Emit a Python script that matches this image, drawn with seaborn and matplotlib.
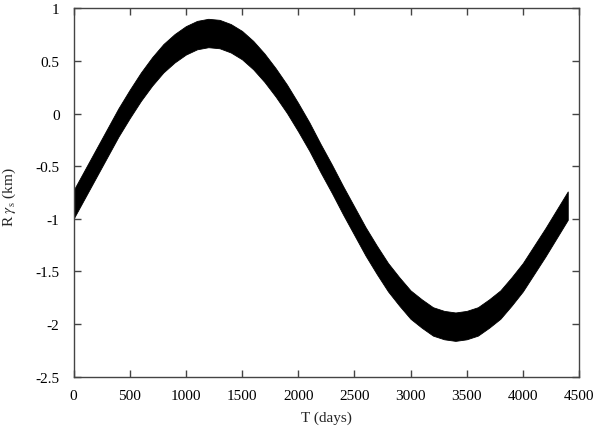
import pandas as pd
import numpy as np
import matplotlib
matplotlib.use("Agg")
import matplotlib.pyplot as plt
import seaborn as sns

# values: upper and lower edge of the black band
days = [0, 100, 200, 300, 400, 500, 600, 700, 800, 900, 1000, 1100, 1200, 1300, 1400,
        1500, 1600, 1700, 1800, 1900, 2000, 2100, 2200, 2300, 2400, 2500, 2600, 2700,
        2800, 2900, 3000, 3100, 3200, 3300, 3400, 3500, 3600, 3700, 3800, 3900, 4000,
        4100, 4200, 4300, 4400]
upper = [-0.73, -0.535, -0.34, -0.145, 0.05, 0.225, 0.39, 0.535, 0.66, 0.755, 0.83,
         0.88, 0.90, 0.89, 0.85, 0.785, 0.69, 0.57, 0.43, 0.275, 0.10, -0.085, -0.29,
         -0.485, -0.69, -0.885, -1.08, -1.255, -1.42, -1.555, -1.68, -1.765, -1.84,
         -1.875, -1.89, -1.875, -1.84, -1.765, -1.68, -1.555, -1.42, -1.255, -1.09,
         -0.915, -0.74]
lower = [-1.00, -0.805, -0.61, -0.415, -0.22, -0.045, 0.12, 0.265, 0.39, 0.485, 0.56,
         0.61, 0.63, 0.62, 0.58, 0.515, 0.42, 0.30, 0.16, 0.005, -0.17, -0.355, -0.56,
         -0.755, -0.96, -1.155, -1.35, -1.525, -1.69, -1.825, -1.95, -2.035, -2.11,
         -2.145, -2.16, -2.145, -2.11, -2.035, -1.95, -1.825, -1.69, -1.525, -1.36,
         -1.185, -1.01]

x_ticks = [0, 500, 1000, 1500, 2000, 2500, 3000, 3500, 4000, 4500]
y_ticks = [-2.5, -2, -1.5, -1, -0.5, 0, 0.5, 1]

sns.set_style("ticks")
plt.rcParams['font.family'] = ['Liberation Serif', 'DejaVu Serif']
plt.rcParams['mathtext.fontset'] = 'stix'

# long form: two values per day, the band spans min..max
df = pd.DataFrame({'T': days + days, 'R': upper + lower})

fig = plt.figure(figsize=(6, 4.27), dpi=100)
ax = fig.add_axes([0.1225, 0.1155, 0.8425, 0.8628])

sns.lineplot(data=df, x='T', y='R', ax=ax, estimator='mean', errorbar=('pi', 100),
             color='black', linewidth=0.5, err_kws={'alpha': 1, 'linewidth': 0.6,
                                                    'edgecolor': 'black'})

ax.set_xlim(0, 4500)
ax.set_ylim(-2.5, 1)
ax.set_xticks(x_ticks)
ax.set_yticks(y_ticks)
ax.set_xticklabels([str(t) for t in x_ticks])
ax.set_yticklabels([f"{t:g}" for t in y_ticks])

edge = '#444444'
for s in ax.spines.values():
    s.set_visible(True)
    s.set_color(edge)
    s.set_linewidth(1.0)
ax.tick_params(direction='in', length=5, width=1, color=edge, labelcolor='black',
               top=True, right=True, labelsize=11)
ax.tick_params(axis='x', pad=9)
ax.tick_params(axis='y', pad=10)

ax.set_xlabel('T (days)', fontsize=11)
ax.set_ylabel(r'R $\gamma_{\rm s}$ (km)', fontsize=11)
ax.yaxis.label.set_verticalalignment('center')
ax.xaxis.set_label_coords(0.5, -0.092)
ax.yaxis.set_label_coords(-0.127, 0.49)

fig.savefig('out.png', dpi=100)
